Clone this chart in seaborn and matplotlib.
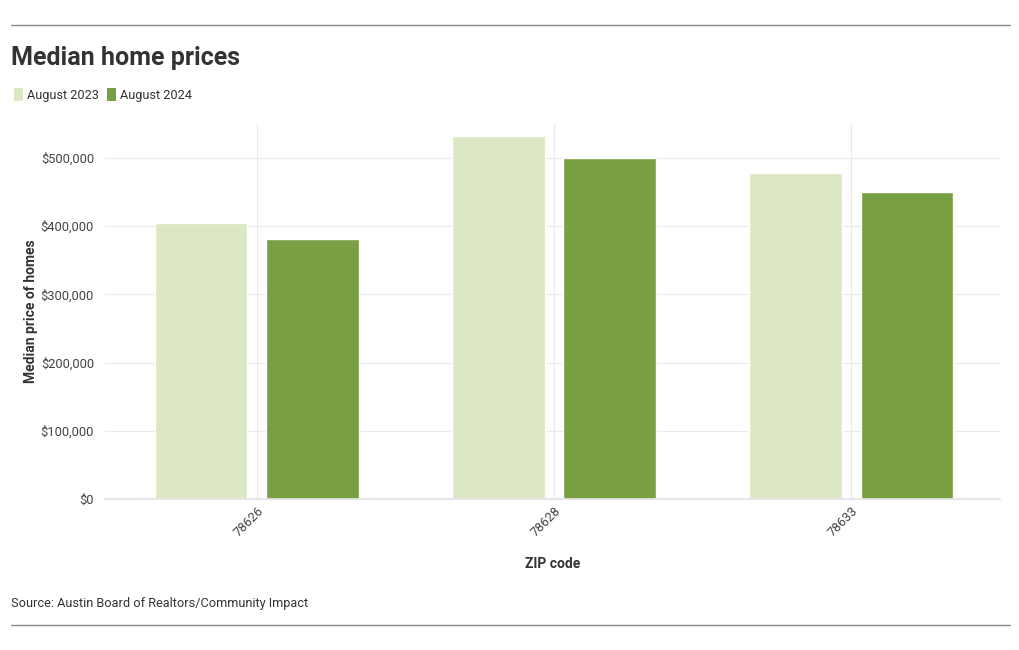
import matplotlib
matplotlib.use("Agg")
import matplotlib.pyplot as plt
import seaborn as sns
import pandas as pd
from matplotlib.patches import Patch
from matplotlib.lines import Line2D
from matplotlib.ticker import FuncFormatter

zips = ["78626", "78628", "78633"]
aug_2023 = [405000, 532000, 478000]
aug_2024 = [381000, 500000, 450000]
series = ["August 2023", "August 2024"]
colors = ["#dce7c4", "#789f41"]

df = pd.DataFrame({
    "zip": zips * 2,
    "period": [series[0]] * 3 + [series[1]] * 3,
    "price": aug_2023 + aug_2024,
})

sns.set_theme(style="white")
plt.rcParams["font.family"] = ["Roboto", "DejaVu Sans"]

fig = plt.figure(figsize=(10.2, 6.5), dpi=100)
ax = fig.add_axes([105 / 1020, 1 - 499 / 650, 895 / 1020, 376 / 650])

sns.barplot(data=df, x="zip", y="price", hue="period", palette=colors,
            width=0.75, gap=0.17, ax=ax, legend=False, saturation=1)

ax.set_xlim(-0.51, 2.5)
ax.set_ylim(0, 551000)
ax.set_yticks([0, 100000, 200000, 300000, 400000, 500000])
ax.yaxis.set_major_formatter(FuncFormatter(lambda v, p: f"${int(v):,}"))
ax.grid(True, color="#ebebeb", linewidth=0.8)
ax.set_axisbelow(True)
for s in ["top", "right", "left"]:
    ax.spines[s].set_visible(False)
ax.spines["bottom"].set_color("#e3e3e3")
ax.tick_params(axis="y", labelsize=9.3, colors="#444444", length=0, pad=8)
ax.tick_params(axis="x", labelsize=9.3, colors="#444444", length=0, pad=4)
for lab in ax.get_xticklabels():
    lab.set_rotation(45)
    lab.set_ha("right")
    lab.set_rotation_mode("anchor")
ax.set_xlabel("ZIP code", fontsize=10, fontweight="bold", color="#333333")
ax.set_ylabel("Median price of homes", fontsize=10, fontweight="bold", color="#333333")
ax.yaxis.set_label_coords((38 - 105) / 895, 0.5)
ax.xaxis.set_label_coords(0.5, (499 - 557) / 376)

fig.add_artist(Line2D([11 / 1020, 1010 / 1020], [1 - 25 / 650] * 2, color="#888888", lw=1))
fig.add_artist(Line2D([11 / 1020, 1010 / 1020], [1 - 625 / 650] * 2, color="#888888", lw=1))
fig.text(11 / 1020, 1 - 58 / 650, "Median home prices", fontsize=18, fontweight="bold",
         color="#333333", va="center", ha="left")
fig.text(11 / 1020, 1 - 603 / 650, "Source: Austin Board of Realtors/Community Impact",
         fontsize=9.2, color="#333333", va="center", ha="left")

handles = [Patch(facecolor=c, edgecolor="none") for c in colors]
fig.legend(handles, series, loc="center left", bbox_to_anchor=(3 / 1020, 1 - 95 / 650),
           ncol=2, frameon=False, fontsize=9.2, handlelength=0.7, handleheight=1.1,
           handletextpad=0.3, columnspacing=0.6, labelcolor="#333333")

fig.savefig("out.png", dpi=100)
